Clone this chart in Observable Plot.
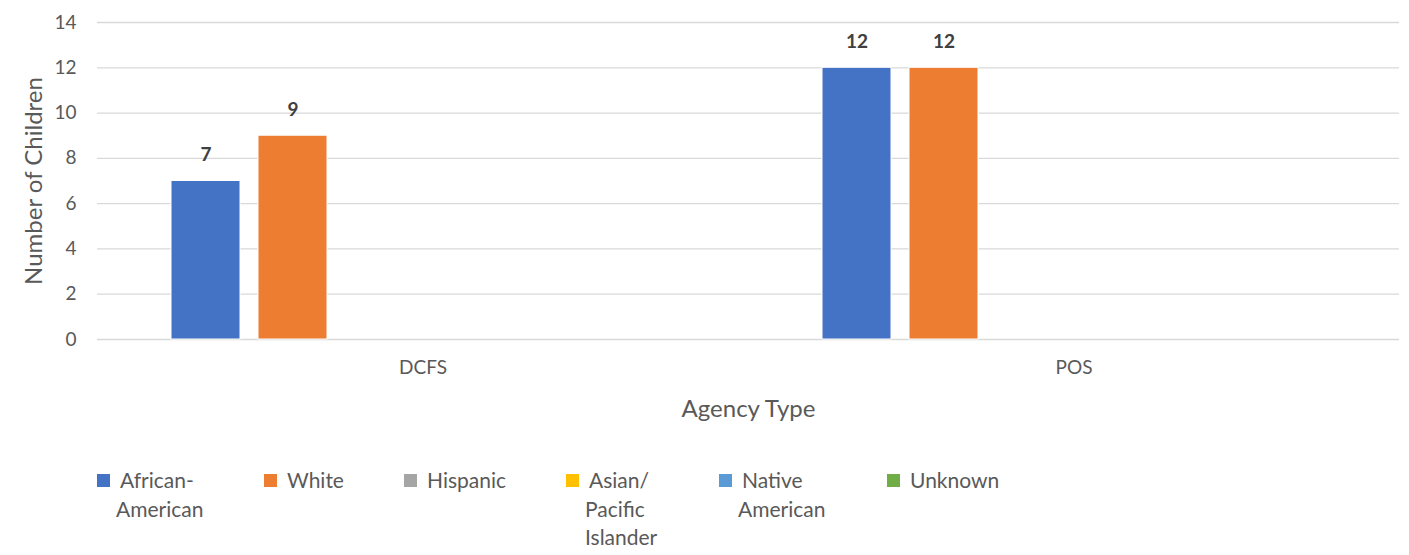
<!DOCTYPE html>
<html>
<head>
<meta charset="utf-8">
<script src="https://cdn.jsdelivr.net/npm/d3@7"></script>
<script src="https://cdn.jsdelivr.net/npm/@observablehq/plot@0.6"></script>
<style>
  html, body { margin: 0; padding: 0; background: #fff; }
  body { width: 1409px; height: 555px; overflow: hidden; font-family: Lato, "Open Sans", sans-serif; }
  #legend { position: relative; height: 125px; }
  .item { position: absolute; top: 36px; display: flex; align-items: flex-start; color: #595959; font-size: 21px; line-height: 28.5px; }
  .sw { width: 13px; height: 13px; margin-top: 8px; flex: none; }
  .lbl { width: 104px; margin-left: 6px; text-indent: 4px; }
</style>
</head>
<body>
<div id="chart"></div>
<div id="legend"></div>
<script>
const agencies = ["DCFS", "POS"];
const races = ["African-American", "White", "Hispanic", "Asian/ Pacific Islander", "Native American", "Unknown"];
const dcfsValues = [7, 9, 0, 0, 0, 0];
const posValues = [12, 12, 0, 0, 0, 0];
const raceColors = ["#4472c4", "#ed7d31", "#a5a5a5", "#ffc000", "#5b9bd5", "#70ad47"];
const yTicks = [0, 2, 4, 6, 8, 10, 12, 14];

// legend layout (x positions of legend entries)
const legendLeft = [97, 264, 404, 566, 719, 887];

const seriesByAgency = {DCFS: dcfsValues, POS: posValues};
const rows = agencies.flatMap(a => races.map((r, i) => ({agency: a, race: r, value: seriesByAgency[a][i]})));
const nonzero = rows.filter(d => d.value > 0);

const chart = Plot.plot({
  width: 1409,
  height: 430,
  marginLeft: 97,
  marginRight: 10,
  marginTop: 22,
  marginBottom: 91,
  style: {fontFamily: "Lato, 'Open Sans', sans-serif", fontSize: "19px", color: "#595959", background: "#fff"},
  fx: {domain: agencies, padding: 0, axis: null},
  x: {domain: races, paddingInner: 0.21, paddingOuter: 0.83, axis: null},
  y: {domain: [0, 14], axis: null},
  color: {domain: races, range: raceColors},
  marks: [
    Plot.gridY(yTicks, {stroke: "#d9d9d9", strokeOpacity: 1, strokeWidth: 1.3}),
    Plot.axisY(yTicks, {tickSize: 0, tickPadding: 21, fontSize: 19, label: "Number of Children", labelAnchor: "center", labelArrow: "none", labelOffset: 73}),
    Plot.axisFx({anchor: "bottom", tickSize: 0, tickPadding: 21, fontSize: 19, label: "Agency Type", labelAnchor: "center", labelArrow: "none", labelOffset: 77}),
    Plot.barY(nonzero, {fx: "agency", x: "race", y: "value", fill: "race", stroke: "#fff", strokeWidth: 1}),
    Plot.text(nonzero, {fx: "agency", x: "race", y: "value", text: d => String(d.value), dy: -26, fontWeight: "bold", fontSize: 19, fill: "#404040"})
  ]
});
document.getElementById("chart").appendChild(chart);

// Axis title font sizes
chart.querySelectorAll("g[aria-label='fx-axis label'] text, g[aria-label='y-axis label'] text").forEach(t => t.setAttribute("font-size", "24"));

const legend = document.getElementById("legend");
races.forEach((r, i) => {
  const item = document.createElement("div");
  item.className = "item";
  item.style.left = legendLeft[i] + "px";
  const sw = document.createElement("div");
  sw.className = "sw";
  sw.style.background = raceColors[i];
  const lbl = document.createElement("div");
  lbl.className = "lbl";
  lbl.textContent = r;
  item.appendChild(sw);
  item.appendChild(lbl);
  legend.appendChild(item);
});
</script>
</body>
</html>
